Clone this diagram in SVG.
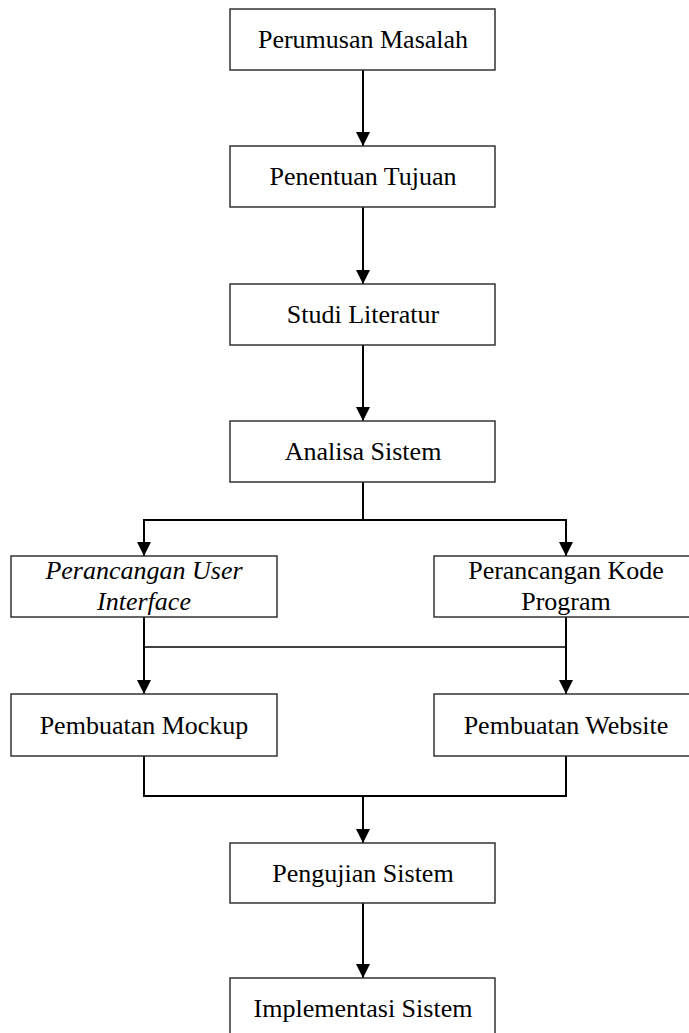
<svg xmlns="http://www.w3.org/2000/svg" width="689" height="1033" viewBox="0 0 689 1033">
  <style>
    .box { fill: #ffffff; stroke: #333333; stroke-width: 1.5; }
    .lbl { font-family: "Liberation Serif", "Times New Roman", serif; font-size: 26px; fill: #000000; text-anchor: middle; }
    .it { font-style: italic; }
    .wire { fill: none; stroke: #000000; stroke-width: 2; }
    .thin { fill: none; stroke: #000000; stroke-width: 1.5; }
  </style>
  <defs>
    <marker id="arrow" viewBox="0 0 14 15" refX="14" refY="7" markerWidth="14" markerHeight="15" markerUnits="userSpaceOnUse" orient="auto">
      <path d="M0,0 L14,7 L0,14 z" fill="#000000"/>
    </marker>
  </defs>
  <rect width="689" height="1033" fill="#ffffff"/>

  <g id="connectors">
    <path class="wire" d="M363,70 V146" marker-end="url(#arrow)"/>
    <path class="wire" d="M363,207 V284" marker-end="url(#arrow)"/>
    <path class="wire" d="M363,345 V421" marker-end="url(#arrow)"/>
    <path class="wire" d="M363,482 V520 H144 V556" marker-end="url(#arrow)"/>
    <path class="wire" d="M363,520 H566 V556" marker-end="url(#arrow)"/>
    <path class="wire" d="M144,617 V694" marker-end="url(#arrow)"/>
    <path class="wire" d="M566,617 V694" marker-end="url(#arrow)"/>
    <path class="thin" d="M144,647 H566"/>
    <path class="wire" d="M144,756 V796 H566 V756"/>
    <path class="wire" d="M363,796 V843" marker-end="url(#arrow)"/>
    <path class="wire" d="M363,903 V978" marker-end="url(#arrow)"/>
  </g>

  <g id="perumusan-masalah">
    <rect class="box" x="230" y="9" width="265" height="61"/>
    <text class="lbl" x="363" y="48">Perumusan Masalah</text>
  </g>
  <g id="penentuan-tujuan">
    <rect class="box" x="230" y="146" width="265" height="61"/>
    <text class="lbl" x="363" y="185">Penentuan Tujuan</text>
  </g>
  <g id="studi-literatur">
    <rect class="box" x="230" y="284" width="265" height="61"/>
    <text class="lbl" x="363" y="323">Studi Literatur</text>
  </g>
  <g id="analisa-sistem">
    <rect class="box" x="230" y="421" width="265" height="61"/>
    <text class="lbl" x="363" y="460">Analisa Sistem</text>
  </g>
  <g id="perancangan-ui">
    <rect class="box" x="11" y="556" width="266" height="61"/>
    <text class="lbl it" x="144" y="579">Perancangan User</text>
    <text class="lbl it" x="144" y="610">Interface</text>
  </g>
  <g id="perancangan-kode">
    <rect class="box" x="434" y="556" width="265" height="61"/>
    <text class="lbl" x="566" y="579">Perancangan Kode</text>
    <text class="lbl" x="566" y="610">Program</text>
  </g>
  <g id="pembuatan-mockup">
    <rect class="box" x="11" y="694" width="266" height="62"/>
    <text class="lbl" x="144" y="734">Pembuatan Mockup</text>
  </g>
  <g id="pembuatan-website">
    <rect class="box" x="434" y="694" width="265" height="62"/>
    <text class="lbl" x="566" y="734">Pembuatan Website</text>
  </g>
  <g id="pengujian-sistem">
    <rect class="box" x="230" y="843" width="265" height="60"/>
    <text class="lbl" x="363" y="882">Pengujian Sistem</text>
  </g>
  <g id="implementasi-sistem">
    <rect class="box" x="230" y="978" width="265" height="61"/>
    <text class="lbl" x="363" y="1017">Implementasi Sistem</text>
  </g>
</svg>
